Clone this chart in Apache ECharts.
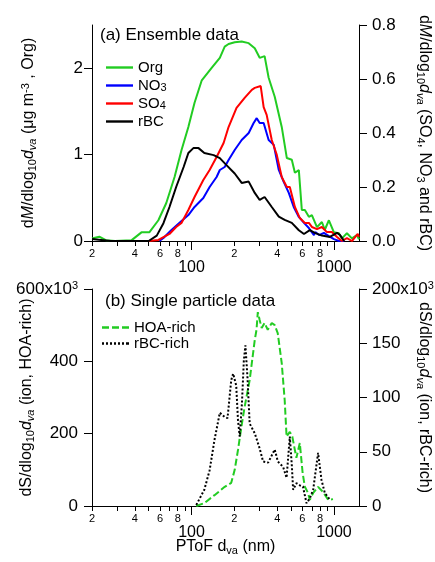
<!DOCTYPE html>
<html>
<head>
<meta charset="utf-8">
<script src="https://cdn.jsdelivr.net/npm/echarts@6/dist/echarts.min.js"></script>
<style>
html, body { margin: 0; padding: 0; background: #fff; }
#chart { width: 435px; height: 562px; }
</style>
</head>
<body>
<div id="chart"></div>
<script>
// [diameter nm, value]
var orgData = [[20, 0.03], [22.5, 0.05], [25, 0.01], [29, 0.0], [38, 0.01], [44.5, 0.1], [50.5, 0.1], [58.5, 0.24], [66.5, 0.44],
    [76, 0.74], [85, 1.05], [95, 1.32], [105, 1.6], [118, 1.86], [138, 2.0], [158, 2.12], [171, 2.25], [182, 2.28], [201, 2.3],
    [225, 2.31], [252, 2.29], [278, 2.23], [301, 2.12], [326, 2.14], [348, 1.89], [384, 1.67], [430, 1.32], [467, 0.96], [506, 0.94],
    [532, 0.79], [567, 0.82], [595, 0.36], [625, 0.36], [667, 0.28], [700, 0.3], [760, 0.16], [823, 0.22], [863, 0.13], [922, 0.24],
    [1000, 0.1], [1084, 0.09], [1138, 0.03], [1234, 0.09], [1338, 0.03], [1450, 0.07], [1500, 0.02]];
var no3Data = [[59.5, 0], [63.5, 0.011], [72, 0.04], [82, 0.067], [95, 0.096], [105, 0.126], [121, 0.159], [134, 0.2], [150, 0.237],
    [158, 0.263], [171, 0.274], [182, 0.3], [201, 0.337], [225, 0.374], [252, 0.4], [273, 0.437], [287, 0.455], [301, 0.437],
    [321, 0.437], [348, 0.374], [378, 0.356], [410, 0.263], [444, 0.219], [482, 0.178], [522, 0.126], [567, 0.089], [616, 0.067],
    [667, 0.048], [724, 0.022], [740, 0.033], [786, 0.022], [850, 0.03], [922, 0.018], [1000, 0.007], [1084, 0], [1180, 0]];
var so4Data = [[50, 0], [58.5, 0.004], [70, 0.026], [78, 0.052], [85, 0.067], [95, 0.115], [105, 0.163], [121, 0.226], [134, 0.263],
    [150, 0.311], [168, 0.363], [182, 0.422], [207, 0.493], [236, 0.53], [265, 0.56], [278, 0.567], [306, 0.574], [321, 0.496],
    [337, 0.467], [366, 0.374], [397, 0.319], [430, 0.237], [467, 0.2], [490, 0.2], [532, 0.126], [576, 0.085], [625, 0.067],
    [667, 0.067], [700, 0.052], [760, 0.044], [823, 0.052], [892, 0.033], [967, 0.033], [1052, 0.015], [1138, 0], [1234, 0.011],
    [1338, 0], [1470, 0.026], [1500, 0.015]];
var rbcData = [[20, 0.007], [27, 0.0], [50, 0.0], [57, 0.02], [63.5, 0.066], [70, 0.126], [78, 0.2], [88, 0.274], [95, 0.326],
    [103, 0.344], [112, 0.344], [123, 0.326], [143, 0.318], [158, 0.307], [176, 0.281], [201, 0.25], [225, 0.215], [252, 0.22],
    [278, 0.178], [301, 0.152], [326, 0.163], [366, 0.126], [410, 0.09], [451, 0.078], [506, 0.067], [567, 0.04], [616, 0.026],
    [677, 0.04], [734, 0.03], [823, 0.02], [936, 0.015], [1052, 0.03], [1104, 0.022], [1180, 0.0]];
// single particle, x10^3
var hoaRich = [[108, 0], [123, 8], [145, 30], [171, 53], [190, 64], [201, 100], [212, 155], [224, 219], [236, 274], [256, 348],
    [278, 459], [286, 487], [292, 536], [301, 514], [311, 492], [326, 506], [343, 487], [366, 506], [384, 500], [403, 478],
    [430, 395], [451, 293], [465, 192], [490, 205], [510, 192], [545, 133], [576, 174], [603, 91], [625, 53], [658, 36],
    [677, 17], [715, 36], [774, 53], [838, 39], [911, 17], [985, 19]];
var rbcRich = [[108, 1], [123, 15], [134, 33], [145, 61], [158, 86], [171, 82], [179, 81], [190, 116], [196, 122], [206, 111],
    [212, 79], [218, 64], [226, 95], [233, 134], [239, 148], [247, 119], [256, 76], [278, 67], [301, 53], [318, 41], [345, 40],
    [384, 52], [404, 41], [440, 36], [465, 26], [490, 64], [507, 36], [517, 15], [545, 21], [576, 19], [606, 18], [642, 2.5],
    [677, 7], [715, 15], [774, 49], [818, 24], [863, 12], [935, 6]];

var minorTicks = [20, 30, 40, 50, 60, 70, 80, 90, 200, 300, 400, 500, 600, 700, 800, 900];
var majorTicks = [100, 1000];
var minorLabels = [20, 40, 60, 80, 200, 400, 600, 800];
var xMin = 20, xMax = 1500;

var FONT = 'Liberation Sans';
var chart = echarts.init(document.getElementById('chart'));

function lg(list) {
    return list.map(function (p) { return [Math.log10(p[0]), p[1]]; });
}

var nameRich = {
    t: { fontSize: 16, lineHeight: 18, fontFamily: FONT, color: '#000' },
    i: { fontSize: 16, lineHeight: 18, fontFamily: FONT, fontStyle: 'italic', color: '#000' },
    s: { fontSize: 11, lineHeight: 4, verticalAlign: 'bottom', fontFamily: FONT, color: '#000' },
    si: { fontSize: 11, lineHeight: 4, verticalAlign: 'bottom', fontFamily: FONT, fontStyle: 'italic', color: '#000' },
    p: { fontSize: 11, lineHeight: 4, verticalAlign: 'top', fontFamily: FONT, color: '#000' }
};

// minor ticks with 2,4,6,8 labels
function xAxisMinor(gridIndex) {
    return {
        type: 'value', gridIndex: gridIndex, position: 'bottom',
        min: Math.log10(xMin), max: Math.log10(xMax),
        splitLine: { show: false },
        axisLine: { show: true, onZero: false, lineStyle: { color: '#000', width: 1 } },
        axisTick: { show: true, length: 5, customValues: minorTicks.map(Math.log10), lineStyle: { color: '#000' } },
        axisLabel: {
            customValues: minorLabels.map(Math.log10), margin: 7, hideOverlap: false,
            color: '#000', fontSize: 11, fontFamily: FONT,
            formatter: function (v) { return String(Math.round(Math.pow(10, v))).charAt(0); }
        }
    };
}

// decade ticks with 100, 1000 labels
function xAxisMajor(gridIndex, withName) {
    var ax = {
        type: 'value', gridIndex: gridIndex, position: 'bottom',
        min: Math.log10(xMin), max: Math.log10(xMax),
        splitLine: { show: false },
        axisLine: { show: false, onZero: false },
        axisTick: { show: true, length: 9, customValues: majorTicks.map(Math.log10), lineStyle: { color: '#000' } },
        axisLabel: {
            customValues: majorTicks.map(Math.log10), margin: 19, hideOverlap: false,
            color: '#000', fontSize: 16, fontFamily: FONT,
            formatter: function (v) { return String(Math.round(Math.pow(10, v))); }
        }
    };
    if (withName) {
        ax.name = '{t|PToF d}{s|va}{t| (nm)}';
        ax.nameLocation = 'middle';
        ax.nameGap = 32;
        ax.nameMoveOverlap = false;
        ax.nameTextStyle = { rich: nameRich };
    }
    return ax;
}

function yAxis(opt) {
    return {
        type: 'value', gridIndex: opt.grid, position: opt.pos,
        min: 0, max: opt.max,
        splitLine: { show: false },
        axisLine: { show: true, lineStyle: { color: '#000' } },
        axisTick: { show: true, length: 8, customValues: opt.ticks, lineStyle: { color: '#000' } },
        axisLabel: {
            customValues: opt.ticks, margin: opt.margin, hideOverlap: false, color: '#000', fontSize: 17, fontFamily: FONT,
            formatter: opt.fmt,
            rich: {
                n: { fontSize: 17, lineHeight: 17, fontFamily: FONT, color: '#000' },
                p: { fontSize: 11, lineHeight: 4, verticalAlign: 'top', fontFamily: FONT, color: '#000' }
            }
        },
        name: opt.name, nameLocation: 'middle', nameGap: opt.gap, nameRotate: opt.pos === 'left' ? 90 : -90,
        nameMoveOverlap: false,
        nameTextStyle: { rich: nameRich }
    };
}

var legendNames = {
    'Org': '{t|Org}', 'NO3': '{t|NO}{s|3}', 'SO4': '{t|SO}{s|4}', 'rBC': '{t|rBC}',
    'HOA-rich': '{t|HOA-rich}', 'rBC-rich': '{t|rBC-rich}'
};
var legendRich = {
    t: { fontSize: 15, lineHeight: 15, fontFamily: FONT, color: '#000' },
    s: { fontSize: 11, lineHeight: 2, verticalAlign: 'bottom', fontFamily: FONT, color: '#000' }
};
var solidIcon = 'path://M0,0h27v2.4h-27z';
var dashIcon = 'path://M0,0h7v2.4h-7zM10,0h7v2.4h-7zM20,0h7v2.4h-7z';
var dotIcon = 'path://M0,0h2v2.4h-2zM4,0h2v2.4h-2zM8,0h2v2.4h-2zM12,0h2v2.4h-2zM16,0h2v2.4h-2zM20,0h2v2.4h-2zM24,0h2v2.4h-2zM25,0h2v2.4h-2z';

function line(name, data, xi, yi, color, type) {
    return {
        name: name, type: 'line', xAxisIndex: xi, yAxisIndex: yi,
        data: lg(data), symbol: 'none', showSymbol: false, silent: true, animation: false,
        lineStyle: { color: color, width: 2, type: type || 'solid' },
        itemStyle: { color: color }
    };
}

var option = {
    animation: false,
    backgroundColor: '#fff',
    title: [
        { text: '(a) Ensemble data', left: 100, top: 27, padding: 0,
          textStyle: { fontSize: 17, fontWeight: 'normal', color: '#000', fontFamily: FONT } },
        { text: '(b) Single particle data', left: 105, top: 293, padding: 0,
          textStyle: { fontSize: 17, fontWeight: 'normal', color: '#000', fontFamily: FONT } }
    ],
    legend: [
        { data: [{ name: 'Org', icon: solidIcon }, { name: 'NO3', icon: solidIcon },
                 { name: 'SO4', icon: solidIcon }, { name: 'rBC', icon: solidIcon }],
          orient: 'vertical', left: 106, top: 60, padding: 0,
          itemWidth: 27, itemHeight: 2.4, itemGap: 3, selectedMode: false, itemStyle: { borderWidth: 0 },
          formatter: function (n) { return legendNames[n]; }, textStyle: { rich: legendRich } },
        { data: [{ name: 'HOA-rich', icon: dashIcon }, { name: 'rBC-rich', icon: dotIcon }],
          orient: 'vertical', left: 102, top: 320, padding: 0,
          itemWidth: 27, itemHeight: 2.4, itemGap: 1, selectedMode: false, itemStyle: { borderWidth: 0 },
          formatter: function (n) { return legendNames[n]; }, textStyle: { rich: legendRich } }
    ],
    grid: [
        { left: 92, top: 25, width: 267, height: 216, containLabel: false, outerBoundsMode: 'none' },
        { left: 92, top: 289, width: 267, height: 217, containLabel: false, outerBoundsMode: 'none' }
    ],
    xAxis: [xAxisMinor(0), xAxisMajor(0, false), xAxisMinor(1), xAxisMajor(1, true)],
    yAxis: [
        yAxis({ grid: 0, pos: 'left', max: 2.5, ticks: [0, 1, 2], margin: 9, gap: 54,
                fmt: function (v) { return '{n|' + v + '}'; },
                name: '{t|d}{i|M}{t|/dlog}{s|10}{i|d}{si|va}{t| (μg m}{p|-3}{t| , Org)}' }),
        yAxis({ grid: 0, pos: 'right', max: 0.8, ticks: [0, 0.2, 0.4, 0.6, 0.8], margin: 13, gap: 56,
                fmt: function (v) { return '{n|' + v.toFixed(1) + '}'; },
                name: '{t|d}{i|M}{t|/dlog}{s|10}{i|d}{si|va}{t| (SO}{s|4}{t|, NO}{s|3}{t| and rBC)}' }),
        yAxis({ grid: 1, pos: 'left', max: 600, ticks: [0, 200, 400, 600], margin: 14, gap: 56,
                fmt: function (v) { return v === 600 ? '{n|600x10}{p|3}' : '{n|' + v + '}'; },
                name: '{t|dS/dlog}{s|10}{i|d}{si|va}{t| (ion, HOA-rich)}' }),
        yAxis({ grid: 1, pos: 'right', max: 200, ticks: [0, 50, 100, 150, 200], margin: 13, gap: 56,
                fmt: function (v) { return v === 200 ? '{n|200x10}{p|3}' : '{n|' + v + '}'; },
                name: '{t|dS/dlog}{s|10}{i|d}{si|va}{t| (ion, rBC-rich)}' })
    ],
    series: [
        line('Org', orgData, 0, 0, '#22cc22'),
        line('NO3', no3Data, 0, 1, '#0000ff'),
        line('SO4', so4Data, 0, 1, '#ff0000'),
        line('rBC', rbcData, 0, 1, '#000000'),
        line('HOA-rich', hoaRich, 2, 2, '#22cc22', [7, 3]),
        line('rBC-rich', rbcRich, 2, 3, '#000000', [2, 2])
    ]
};
chart.setOption(option);
</script>
</body>
</html>
